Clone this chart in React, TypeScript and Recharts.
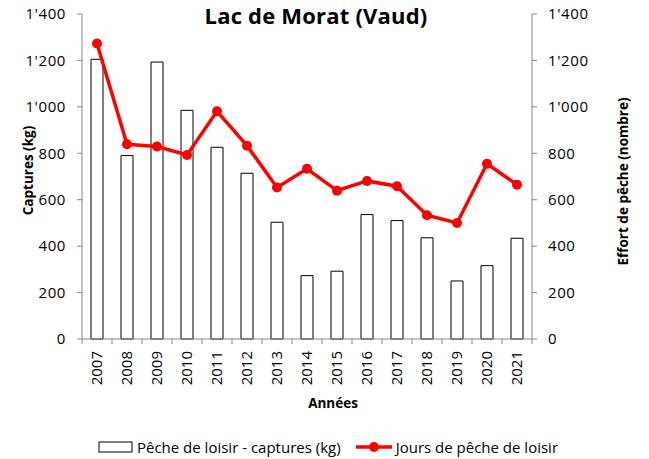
import React from 'react';
import {
  ComposedChart,
  Bar,
  Line,
  XAxis,
  YAxis,
  Legend,
} from 'recharts';

const years = ['2007', '2008', '2009', '2010', '2011', '2012', '2013', '2014', '2015', '2016', '2017', '2018', '2019', '2020', '2021'];
const captures = [1205, 790, 1193, 985, 826, 714, 503, 273, 292, 536, 510, 436, 250, 316, 434];
const jours = [1273, 839, 829, 793, 981, 833, 653, 733, 639, 681, 658, 533, 500, 755, 665];
const yTicks = [0, 200, 400, 600, 800, 1000, 1200, 1400];

const data = years.map((year, i) => ({
  year,
  captures: captures[i],
  jours: jours[i],
}));

const FONT = '"Open Sans", sans-serif';
const AXIS = '#868686';
const RED = '#ff0000';

const fmt = (v: number) => String(v).replace(/\B(?=(\d{3})+(?!\d))/g, "'");

const YearTick = (props: any) => {
  const { x, y, payload, index, visibleTicksCount } = props;
  const band = 450 / years.length;
  return (
    <g>
      <line x1={x - band / 2} y1={y - 8} x2={x - band / 2} y2={y - 3} stroke={AXIS} />
      {index === visibleTicksCount - 1 && (
        <line x1={x + band / 2} y1={y - 8} x2={x + band / 2} y2={y - 3} stroke={AXIS} />
      )}
      <g transform={`translate(${x},${y + 4}) rotate(-90)`}>
        <text x={0} y={0} dy="0.35em" textAnchor="end" fill="#000" fontSize={15} fontFamily={FONT}>
          {payload.value}
        </text>
      </g>
    </g>
  );
};

const LegendContent = () => (
  <div
    style={{
      display: 'flex',
      justifyContent: 'center',
      alignItems: 'center',
      height: 20,
      fontFamily: FONT,
      fontSize: 15,
      color: '#000',
    }}
  >
    <svg width={36} height={12} style={{ marginRight: 3 }}>
      <rect x={1} y={1} width={33} height={10} fill="#fff" stroke="#000" />
    </svg>
    <span style={{ marginRight: 14 }}>Pêche de loisir - captures (kg)</span>
    <svg width={38} height={12} style={{ marginRight: 3 }}>
      <line x1={1} y1={6} x2={37} y2={6} stroke={RED} strokeWidth={3.5} />
      <circle cx={19} cy={6} r={5} fill={RED} />
    </svg>
    <span>Jours de pêche de loisir</span>
  </div>
);

export default function App() {
  return (
    <div style={{ position: 'absolute', left: 0, top: 0, width: 649, height: 459, background: '#fff' }}>
      <div
        style={{
          position: 'absolute',
          left: 0,
          width: 632,
          top: 0,
          lineHeight: '30px',
          textAlign: 'center',
          fontFamily: FONT,
          fontWeight: 700,
          fontSize: 22,
          letterSpacing: 0.2,
          color: '#000',
          zIndex: 1,
        }}
      >
        Lac de Morat (Vaud)
      </div>
      <ComposedChart
        width={649}
        height={459}
        data={data}
        margin={{ top: 14, right: 57, bottom: 2, left: 22 }}
        barCategoryGap={0}
      >
        <XAxis
          dataKey="year"
          height={98}
          interval={0}
          axisLine={{ stroke: AXIS }}
          tickLine={false}
          tick={<YearTick />}
          label={({ viewBox }: any) => (
            <text
              x={viewBox.x + viewBox.width / 2 + 26}
              y={viewBox.y + 69}
              textAnchor="middle"
              fontFamily={FONT}
              fontWeight={700}
              fontSize={13.5}
              fill="#000"
            >
              Années
            </text>
          )}
        />
        <YAxis
          yAxisId="left"
          width={60}
          domain={[0, 1400]}
          ticks={yTicks}
          tickFormatter={fmt}
          axisLine={{ stroke: AXIS }}
          tickLine={{ stroke: AXIS }}
          tickSize={5}
          tickMargin={11}
          tick={{ fill: '#000', fontSize: 15, fontFamily: FONT, letterSpacing: 0.6 }}
          label={({ viewBox }: any) => {
            const cx = viewBox.x + 6;
            const cy = viewBox.y + viewBox.height / 2 - 6;
            return (
              <text
                x={cx}
                y={cy}
                transform={`rotate(-90, ${cx}, ${cy})`}
                dy="0.35em"
                textAnchor="middle"
                fontFamily={FONT}
                fontWeight={700}
                fontSize={13.5}
                fill="#000"
              >
                Captures (kg)
              </text>
            );
          }}
        />
        <YAxis
          yAxisId="right"
          orientation="right"
          width={60}
          domain={[0, 1400]}
          ticks={yTicks}
          tickFormatter={fmt}
          axisLine={{ stroke: AXIS }}
          tickLine={{ stroke: AXIS }}
          tickSize={5}
          tickMargin={11}
          tick={{ fill: '#000', fontSize: 15, fontFamily: FONT, letterSpacing: 0.6 }}
          label={({ viewBox }: any) => {
            const cx = viewBox.x + 91;
            const cy = viewBox.y + viewBox.height / 2 + 5;
            return (
              <text
                x={cx}
                y={cy}
                transform={`rotate(-90, ${cx}, ${cy})`}
                dy="0.35em"
                textAnchor="middle"
                fontFamily={FONT}
                fontWeight={700}
                fontSize={13.5}
                fill="#000"
              >
                Effort de pêche (nombre)
              </text>
            );
          }}
        />
        <Legend
          verticalAlign="bottom"
          content={<LegendContent />}
          wrapperStyle={{ left: 0, width: 656 }}
        />
        <Bar
          yAxisId="left"
          dataKey="captures"
          name="Pêche de loisir - captures (kg)"
          fill="#fff"
          stroke="#000"
          strokeWidth={1}
          barSize={12}
          isAnimationActive={false}
        />
        <Line
          yAxisId="right"
          dataKey="jours"
          name="Jours de pêche de loisir"
          type="linear"
          stroke={RED}
          strokeWidth={3.5}
          dot={{ r: 5, fill: RED, stroke: RED, strokeWidth: 0 }}
          activeDot={false}
          isAnimationActive={false}
        />
      </ComposedChart>
    </div>
  );
}
